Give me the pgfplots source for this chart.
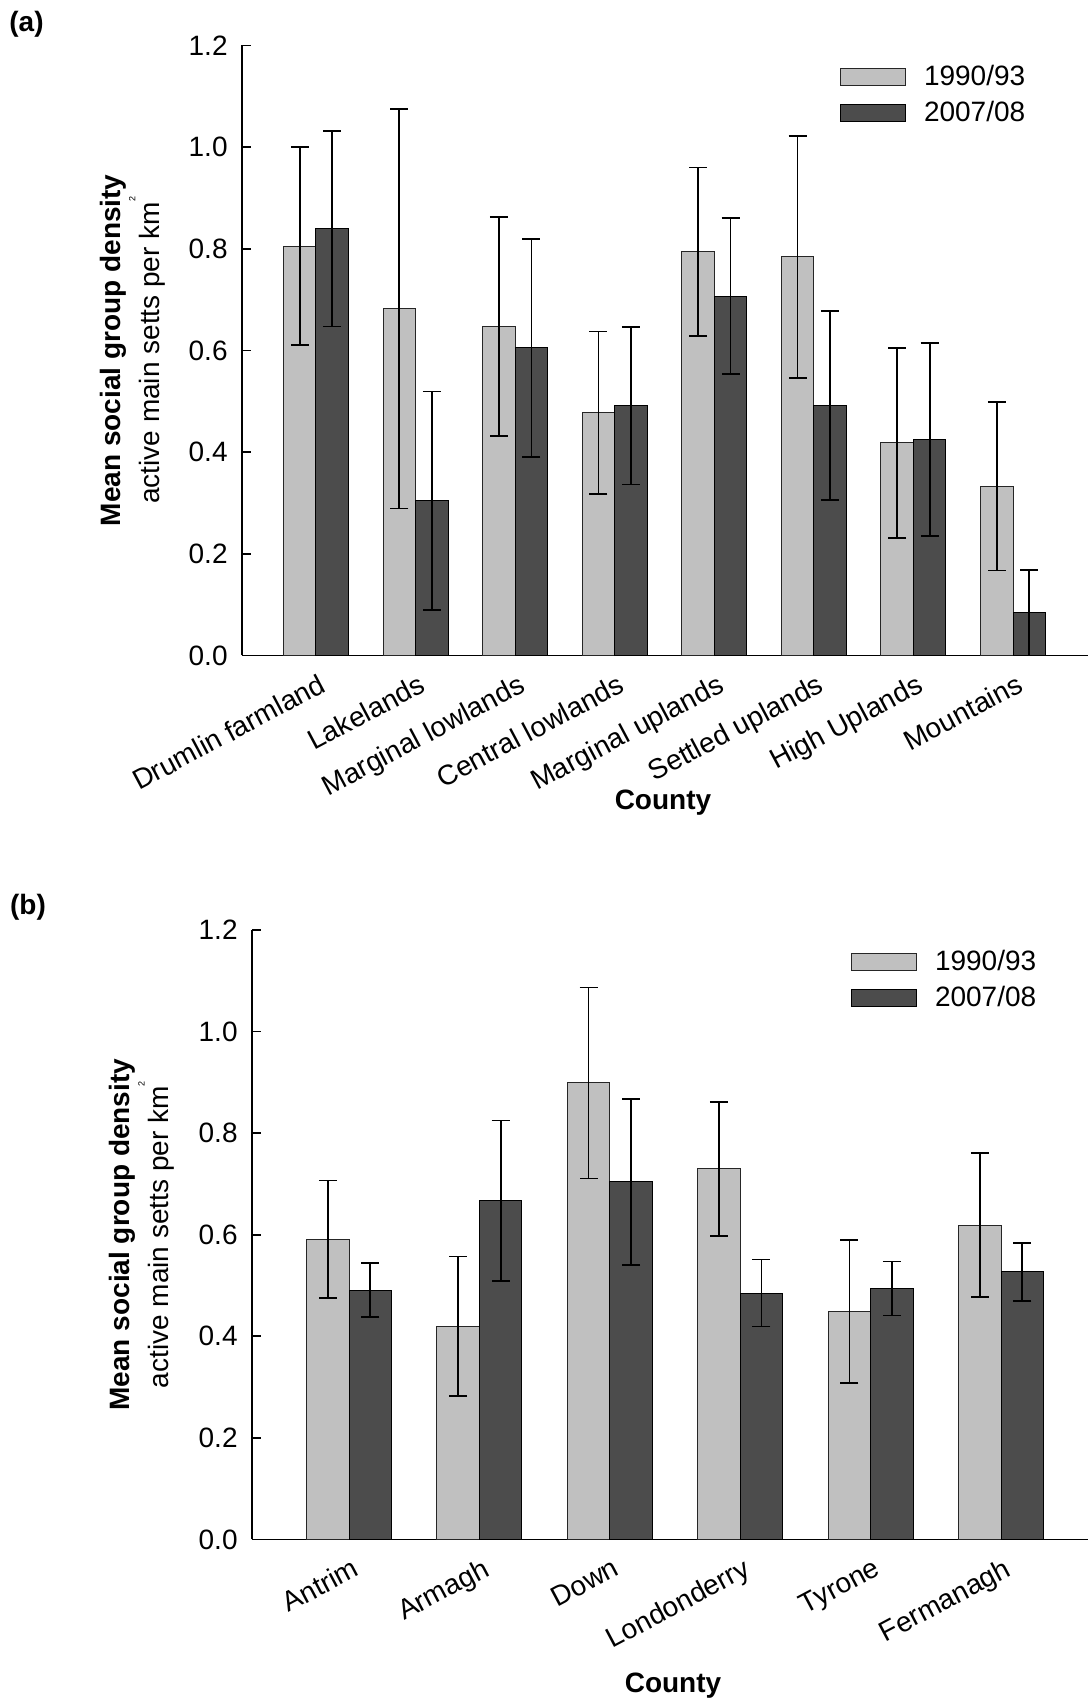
\documentclass[border=0pt]{standalone}
\usepackage{pgfplots}
\pgfplotsset{compat=1.18}
\usepackage{fontspec}
\setmainfont{Liberation Sans}
\definecolor{barlight}{HTML}{C0C0C0}
\definecolor{bardark}{HTML}{4C4C4C}
\newcommand{\fs}{\fontsize{14}{16.8}\selectfont}
\pgfplotsset{
  panel/.style={
    scale only axis,
    axis x line=bottom, axis y line=left,
    axis line style={-, line width=0.85pt, black},
    ymin=0, ymax=1.2,
    ytick={0,0.2,0.4,0.6,0.8,1.0,1.2},
    /pgf/number format/fixed,
    /pgf/number format/fixed zerofill,
    /pgf/number format/precision=1,
    /pgf/number format/assume math mode=true,
    tick align=inside,
    major tick length=4.5pt,
    ytick style={line width=0.85pt, black},
    xtick style={draw=none},
    yticklabel style={font=\fs, inner sep=0pt, xshift=-7pt},
    xticklabel style={font=\fs, inner sep=0pt, yshift=-8.5pt, xshift=1pt, rotate=28, anchor=north east},
    xlabel style={font=\bfseries\fs, anchor=center},
    ylabel style={font=\fontsize{14}{19.5}\selectfont, align=center, anchor=center, rotate=0},
    legend style={draw=none, fill=none, inner sep=0pt, outer sep=0pt, row sep=6.3pt, column sep=9pt, font=\fs, nodes={inner sep=0pt}},
    legend cell align=left,
    legend image post style={xscale=1.904, yscale=1.494},
  },
  errs/.style={
    error bars/.cd, y dir=both, y explicit,
    error bar style={line width=0.85pt, black, xshift=#1},
    error mark options={rotate=90, mark size=4.5pt, line width=0.85pt, black},
  },
  lightbar/.style={ybar, fill=barlight, draw=black!85, line width=0.5pt, area legend},
  darkbar/.style={ybar, fill=bardark, draw=black, line width=0.5pt, area legend},
}
\begin{document}
\begin{tikzpicture}
\useasboundingbox (0,0) rectangle (544pt,-852pt);
\node[font=\bfseries\fs, inner sep=0pt] at (13.25pt,-12.25pt) {(a)};
\node[font=\bfseries\fs, inner sep=0pt] at (14pt,-453.75pt) {(b)};
% ---------------- panel (a)
\begin{axis}[panel,
  at={(121pt,-327.7pt)}, anchor=south west,
  width=423pt, height=305pt,
  xmin=-0.743, xmax=7.753,
  xtick={0,1,2,3,4,5,6,7},
  xticklabels={Drumlin farmland, Lakelands, Marginal lowlands, Central lowlands, Marginal uplands, Settled uplands, High Uplands, Mountains},
  xlabel={County},
  xlabel style={at={(axis description cs:0.4976,-0.241)}},
  ylabel={\textbf{Mean social group density}\\active main setts per km\smash{\raisebox{12pt}{\fontsize{4.5}{5}\selectfont 2}}},
  ylabel style={at={(axis description cs:-0.1294,0.5)}},
  legend style={at={(axis description cs:0.7069,0.967)}, anchor=north west},
]
\addplot[lightbar, bar width=16.23pt, bar shift=-8.115pt, errs=-8.115pt] coordinates {
  (0,0.805) +- (0,0.195)
  (1,0.682) +- (0,0.393)
  (2,0.647) +- (0,0.215)
  (3,0.477) +- (0,0.160)
  (4,0.794) +- (0,0.166)
  (5,0.784) +- (0,0.238)
  (6,0.418) +- (0,0.187)
  (7,0.333) +- (0,0.166)
};
\addlegendentry{1990/93}
\addplot[darkbar, bar width=16.23pt, bar shift=8.115pt, errs=8.115pt] coordinates {
  (0,0.839) +- (0,0.192)
  (1,0.304) +- (0,0.215)
  (2,0.605) +- (0,0.214)
  (3,0.491) +- (0,0.155)
  (4,0.707) +- (0,0.154)
  (5,0.492) +- (0,0.186)
  (6,0.425) +- (0,0.190)
  (7,0.084) +- (0,0.084)
};
\addlegendentry{2007/08}
\end{axis}
% ---------------- panel (b)
\begin{axis}[panel,
  at={(126pt,-769.7pt)}, anchor=south west,
  width=418pt, height=304.7pt,
  xmin=-0.744, xmax=5.667,
  xtick={0,1,2,3,4,5},
  xticklabels={Antrim, Armagh, Down, Londonderry, Tyrone, Fermanagh},
  xlabel={County},
  xlabel style={at={(axis description cs:0.5036,-0.2406)}},
  ylabel={\textbf{Mean social group density}\\active main setts per km\smash{\raisebox{12pt}{\fontsize{4.5}{5}\selectfont 2}}},
  ylabel style={at={(axis description cs:-0.1316,0.5)}},
  legend style={at={(axis description cs:0.7165,0.967)}, anchor=north west},
]
\addplot[lightbar, bar width=21.26pt, bar shift=-10.63pt, errs=-10.63pt] coordinates {
  (0,0.591) +- (0,0.116)
  (1,0.420) +- (0,0.137)
  (2,0.899) +- (0,0.188)
  (3,0.730) +- (0,0.132)
  (4,0.449) +- (0,0.141)
  (5,0.619) +- (0,0.142)
};
\addlegendentry{1990/93}
\addplot[darkbar, bar width=21.26pt, bar shift=10.63pt, errs=10.63pt] coordinates {
  (0,0.491) +- (0,0.053)
  (1,0.667) +- (0,0.158)
  (2,0.704) +- (0,0.163)
  (3,0.485) +- (0,0.066)
  (4,0.494) +- (0,0.053)
  (5,0.527) +- (0,0.057)
};
\addlegendentry{2007/08}
\end{axis}
\end{tikzpicture}
\end{document}
